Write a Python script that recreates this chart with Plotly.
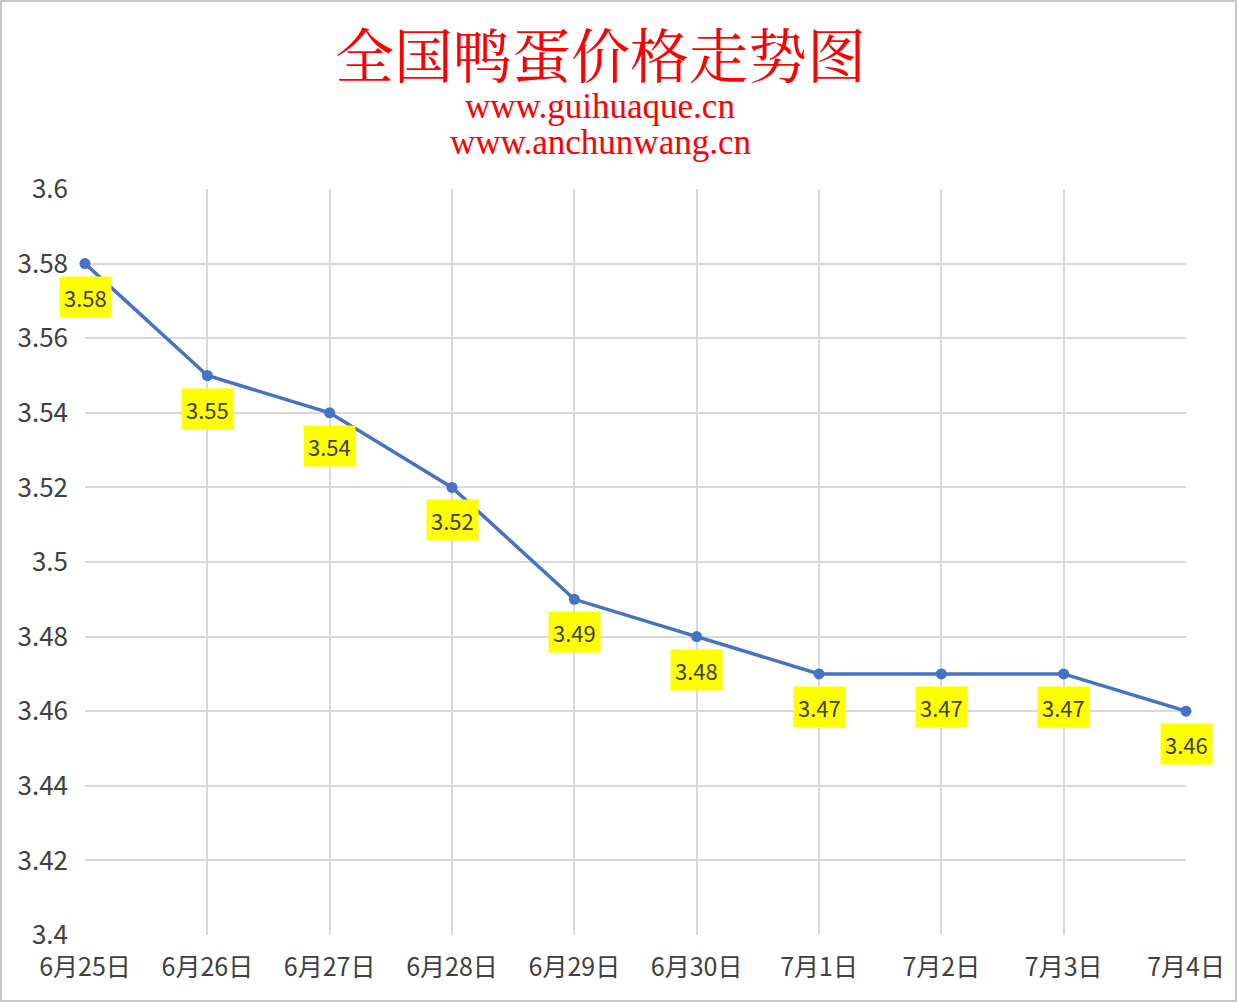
import plotly.graph_objects as go

# data
dates = ["6月25日", "6月26日", "6月27日", "6月28日", "6月29日",
         "6月30日", "7月1日", "7月2日", "7月3日", "7月4日"]
prices = [3.58, 3.55, 3.54, 3.52, 3.49, 3.48, 3.47, 3.47, 3.47, 3.46]
y_ticks = [3.4, 3.42, 3.44, 3.46, 3.48, 3.5, 3.52, 3.54, 3.56, 3.58, 3.6]
y_tick_text = ["3.4", "3.42", "3.44", "3.46", "3.48", "3.5",
               "3.52", "3.54", "3.56", "3.58", "3.6"]

title_text = "全国鸭蛋价格走势图"
site_lines = ["www.guihuaque.cn", "www.anchunwang.cn"]

W, H = 1237, 1002
M = dict(l=85, r=51, t=189, b=67)
plot_w = W - M["l"] - M["r"]
plot_h = H - M["t"] - M["b"]

LINE_BLUE = "#4472C4"
GRID = "#d9d9d9"
TEXT = "#404040"
SANS = "Noto Sans CJK SC, Noto Sans, sans-serif"
SERIF = "Liberation Serif, Noto Sans CJK SC, serif"


def paper_y(px):
    """pixel row in the page -> paper y"""
    return 1 + (M["t"] - px) / plot_h


def paper_x(px):
    return (px - M["l"]) / plot_w


fig = go.Figure()
fig.add_trace(go.Scatter(
    x=dates, y=prices, mode="lines+markers",
    line=dict(color=LINE_BLUE, width=3.5),
    marker=dict(color=LINE_BLUE, size=11),
    cliponaxis=False,
    hoverinfo="x+y", showlegend=False,
))

annotations = []
for d, p in zip(dates, prices):
    annotations.append(dict(
        x=d, y=p, xref="x", yref="y", text=f"{p:.2f}",
        showarrow=False, yshift=-33, bgcolor="#FFFF00", borderpad=4,
        font=dict(family=SANS, size=22, color=TEXT),
    ))

annotations.append(dict(
    x=paper_x(600), y=paper_y(53), xref="paper", yref="paper",
    text=title_text, showarrow=False, xanchor="center", yanchor="middle",
    font=dict(family="Noto Serif CJK SC, " + SERIF, size=59, color="#FF0000"),
))
for i, s in enumerate(site_lines):
    annotations.append(dict(
        x=paper_x(600), y=paper_y(106 + 36 * i), xref="paper", yref="paper",
        text=s, showarrow=False, xanchor="center", yanchor="middle",
        font=dict(family=SERIF, size=35, color="#FF0000"),
    ))

fig.update_layout(
    width=W, height=H, autosize=False,
    margin=M,
    paper_bgcolor="white", plot_bgcolor="white",
    annotations=annotations,
    shapes=[dict(
        type="rect", xref="paper", yref="paper", layer="above",
        x0=paper_x(1), x1=paper_x(W - 1), y0=paper_y(H - 1), y1=paper_y(1),
        line=dict(color="#c8c8c8", width=2), fillcolor="rgba(0,0,0,0)",
    )],
)
fig.update_xaxes(
    type="category", range=[0, len(dates) - 1],
    showgrid=True, gridcolor=GRID, gridwidth=1.5,
    showline=False, zeroline=False, ticks="",
    ticklabelstandoff=15,
    tickfont=dict(family=SANS, size=25, color=TEXT),
)
fig.update_yaxes(
    range=[3.4, 3.6], tickvals=y_ticks, ticktext=y_tick_text,
    showgrid=True, gridcolor=GRID, gridwidth=1.5,
    showline=False, zeroline=False, ticks="",
    ticklabelstandoff=16,
    tickfont=dict(family=SANS, size=26, color=TEXT),
)

# drop the page's default body margin so the figure sits at the top-left
fig.write_html(
    "out.html",
    config={"displayModeBar": False},
    post_script="document.body.style.margin='0';",
)
